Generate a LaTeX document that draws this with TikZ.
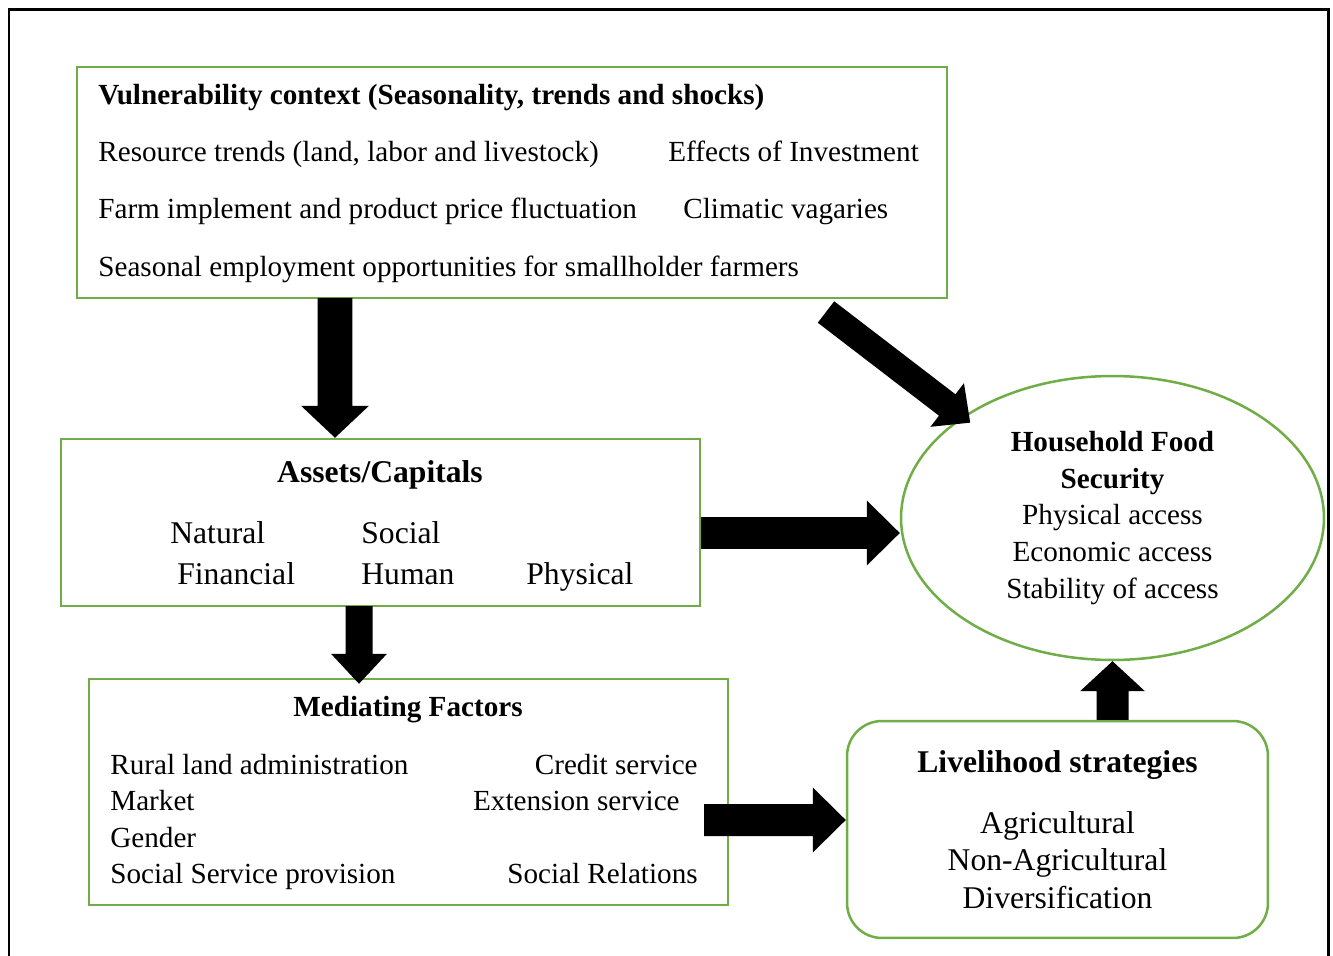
\documentclass[tikz,border=0pt]{standalone}
\usepackage{fontspec}
\setmainfont{Liberation Serif}
\usetikzlibrary{calc,shapes.geometric}
\definecolor{vert}{RGB}{112,173,71}
\newcommand{\grossefleche}[5]{%
\path (#1) coordinate (gf-a) (#2) coordinate (gf-b);
\coordinate (gf-h) at ($(gf-b)!#5!(gf-a)$);
\fill ($(gf-a)!#3!90:(gf-b)$) -- ($(gf-h)!#3!90:(gf-b)$) -- ($(gf-h)!#4!90:(gf-b)$) -- (gf-b) -- ($(gf-h)!#4!-90:(gf-b)$) -- ($(gf-h)!#3!-90:(gf-b)$) -- ($(gf-a)!#3!-90:(gf-b)$) -- cycle;
}
\begin{document}
\begin{tikzpicture}[x=0.02cm, y=-0.02cm]
\tikzset{boite/.style={draw=vert, line width=0.05cm, inner sep=0pt},
petit/.style={inner sep=0pt, font=\fontsize{16.6}{20.8}\selectfont},
grand/.style={inner sep=0pt, font=\fontsize{18}{21.3}\selectfont}}
\useasboundingbox (0,0) rectangle (1333,956);
\draw[line width=0.06cm] (9,956) -- (9,10) -- (1328,10) -- (1328,956);
\node[boite, minimum width=17.4cm, minimum height=4.62cm] (vul) at (512,182.5) {};
\node[petit, anchor=base west, font=\fontsize{16.6}{20.8}\selectfont\bfseries] (vt) at (98,105) {Vulnerability context (Seasonality, trends and shocks)};
\node[petit, anchor=base west] (v1) at (98,162) {Resource trends (land, labor and livestock)};
\node[petit, anchor=base west] (v2) at (668,162) {Effects of Investment};
\node[petit, anchor=base west] (v3) at (98,219) {Farm implement and product price fluctuation};
\node[petit, anchor=base west] (v4) at (683,219) {Climatic vagaries};
\node[petit, anchor=base west] (v5) at (98,277) {Seasonal employment opportunities for smallholder farmers};
\node[boite, minimum width=12.78cm, minimum height=3.34cm] (assets) at (380.5,522.5) {};
\node[grand, anchor=base, font=\fontsize{18}{21.3}\selectfont\bfseries] (at) at (380,482) {Assets/Capitals};
\node[grand, anchor=base west] (a1) at (170,543) {Natural};
\node[grand, anchor=base west] (a2) at (361,543) {Social};
\node[grand, anchor=base west] (a3) at (177,584) {Financial};
\node[grand, anchor=base west] (a4) at (361,584) {Human};
\node[grand, anchor=base west] (a5) at (526,584) {Physical};
\node[boite, minimum width=12.78cm, minimum height=4.52cm] (med) at (408.5,792) {};
\node[petit, anchor=base, font=\fontsize{16.6}{20.8}\selectfont\bfseries] (mt) at (408,716) {Mediating Factors};
\node[petit, anchor=base west] (m1) at (110,774) {Rural land administration};
\node[petit, anchor=base west] (m2) at (110,810) {Market};
\node[petit, anchor=base west] (m3) at (110,847) {Gender};
\node[petit, anchor=base west] (m4) at (110,883) {Social Service provision};
\node[petit, anchor=base east] (m5) at (698,774) {Credit service};
\node[petit, anchor=base east] (m6) at (680,810) {Extension service};
\node[petit, anchor=base east] (m7) at (698,883) {Social Relations};
\node[boite, petit, ellipse, minimum width=8.46cm, minimum height=5.68cm, align=center] (hfs) at (1112.5,518) {\textbf{Household Food}\\\textbf{Security}\\Physical access\\Economic access\\Stability of access};
\node[boite, grand, rounded corners=0.7cm, minimum width=8.42cm, minimum height=4.34cm, align=center] (live) at (1057.5,829.5) {\textbf{Livelihood strategies}\\[0.47cm]Agricultural\\Non-Agricultural\\Diversification};
\coordinate (vb) at (335,298);
\coordinate (dq) at (826,312);
\coordinate (ad) at (assets.east |- 0,533);
\coordinate (ab) at (359,606);
\coordinate (md) at ($(med.east |- 0,820)+(-25,0)$);
\grossefleche{vb}{vb |- assets.north}{0.35cm}{0.68cm}{0.64cm}
\grossefleche{dq}{$(hfs.146)+(8,6)$}{0.27cm}{0.55cm}{0.58cm}
\grossefleche{ad}{ad -| hfs.west}{0.32cm}{0.65cm}{0.66cm}
\grossefleche{ab}{$(ab |- med.north)+(0,6)$}{0.27cm}{0.56cm}{0.6cm}
\grossefleche{md}{md -| live.west}{0.32cm}{0.65cm}{0.66cm}
\grossefleche{hfs.south |- live.north}{hfs.south}{0.32cm}{0.65cm}{0.6cm}
\end{tikzpicture}
\end{document}
